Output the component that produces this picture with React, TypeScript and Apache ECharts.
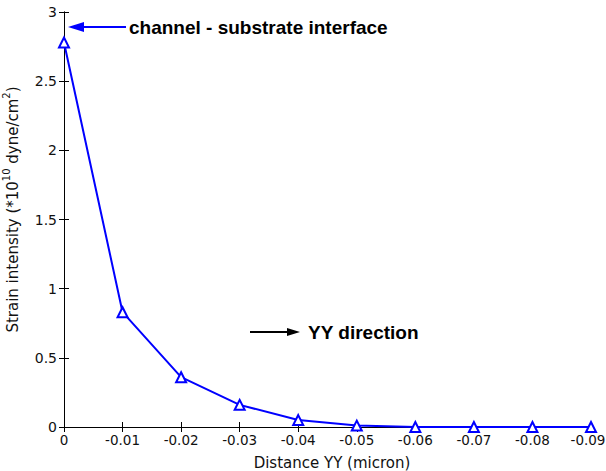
import React, { useEffect, useRef } from "react";
import * as echarts from "echarts";

const distances = [0, -0.01, -0.02, -0.03, -0.04, -0.05, -0.06, -0.07, -0.08, -0.09];
const strain = [2.78, 0.83, 0.36, 0.16, 0.05, 0.01, 0.0, 0.0, 0.0, 0.0];
const xTickLabels = ["0", "-0.01", "-0.02", "-0.03", "-0.04", "-0.05", "-0.06", "-0.07", "-0.08", "-0.09"];
const yTickLabels = ["0", "0.5", "1", "1.5", "2", "2.5", "3"];

const FONT = "'DejaVu Sans', sans-serif";
const BOLD = "Arial, 'Liberation Sans', sans-serif";

export default function App() {
  const ref = useRef<HTMLDivElement>(null);
  useEffect(() => {
    document.body.style.margin = "0";
    const chart = echarts.init(ref.current!, null, { renderer: "svg" });
    const xLabel = (v: number) => {
      const idx = Math.round(-v * 100);
      const t = xTickLabels[idx] ?? "";
      return idx === xTickLabels.length - 1 ? `{last|${t}}` : t;
    };
    const yLabel = (v: number) => {
      const idx = Math.round(v * 2);
      return yTickLabels[idx] ?? "";
    };
    const axisCommon = {
      axisLine: { show: true, lineStyle: { color: "#000", width: 1 } },
      axisTick: { show: true, inside: true, length: 5, lineStyle: { color: "#000" } },
      splitLine: { show: false },
    };
    chart.setOption({
      animation: false,
      backgroundColor: "#fff",
      grid: { left: 64, top: 12, right: 15, bottom: 44, outerBoundsMode: "none", containLabel: false },
      xAxis: [
        {
          type: "value",
          min: -0.09,
          max: 0,
          interval: 0.01,
          inverse: true,
          ...axisCommon,
          axisLabel: {
            formatter: xLabel,
            color: "#111",
            fontSize: 13.5,
            fontFamily: FONT,
            margin: 6,
            rich: { last: { fontSize: 13.5, fontFamily: FONT, color: "#111", padding: [0, 6, 0, 0] } },
          },
          name: "Distance YY (micron)",
          nameLocation: "middle",
          nameGap: 28,
          nameTextStyle: { color: "#111", fontSize: 15, fontFamily: FONT, padding: [0, 0, 0, 9] },
        },
        {
          type: "value",
          position: "top",
          min: -0.09,
          max: 0,
          interval: 0.01,
          inverse: true,
          ...axisCommon,
          axisLabel: { show: false },
        },
      ],
      yAxis: [
        {
          type: "value",
          min: 0,
          max: 3,
          interval: 0.5,
          ...axisCommon,
          axisLabel: { formatter: yLabel, color: "#111", fontSize: 14, fontFamily: FONT, margin: 7 },
          name: "Strain intensity (*10{sup|10} dyne/cm{sup|2})",
          nameLocation: "middle",
          nameGap: 37,
          nameTextStyle: {
            color: "#111",
            fontSize: 15,
            fontFamily: FONT,
            lineHeight: 22,
            padding: [0, 0, 0, 20],
            rich: {
              sup: { fontSize: 10, lineHeight: 10, fontFamily: FONT, color: "#111", verticalAlign: "top" },
            },
          },
        },
        {
          type: "value",
          position: "right",
          min: 0,
          max: 3,
          interval: 0.5,
          ...axisCommon,
          axisLabel: { show: false },
        },
      ],
      series: [
        {
          type: "line",
          data: distances.map((d, i) => [d, strain[i]]),
          symbol: "emptyTriangle",
          symbolSize: 10,
          lineStyle: { color: "#0000ff", width: 2 },
          itemStyle: { color: "#0000ff", borderColor: "#0000ff", borderWidth: 1.5 },
          z: 5,
        },
      ],
      graphic: [
        { type: "line", shape: { x1: 126, y1: 27, x2: 78, y2: 27 }, style: { stroke: "#0000ff", lineWidth: 2 } },
        { type: "polygon", shape: { points: [[68, 27], [84, 22], [84, 32]] }, style: { fill: "#0000ff" } },
        {
          type: "text",
          x: 129,
          y: 27,
          style: { text: "channel - substrate interface", fill: "#000", font: `bold 19px ${BOLD}`, textVerticalAlign: "middle" },
        },
        { type: "line", shape: { x1: 250, y1: 332, x2: 292, y2: 332 }, style: { stroke: "#000", lineWidth: 2 } },
        { type: "polygon", shape: { points: [[300, 332], [287, 328], [287, 336]] }, style: { fill: "#000" } },
        {
          type: "text",
          x: 308,
          y: 332,
          style: { text: "YY direction", fill: "#000", font: `bold 19px ${BOLD}`, textVerticalAlign: "middle" },
        },
      ],
    });
    return () => chart.dispose();
  }, []);
  return <div ref={ref} style={{ width: 606, height: 471 }} />;
}
